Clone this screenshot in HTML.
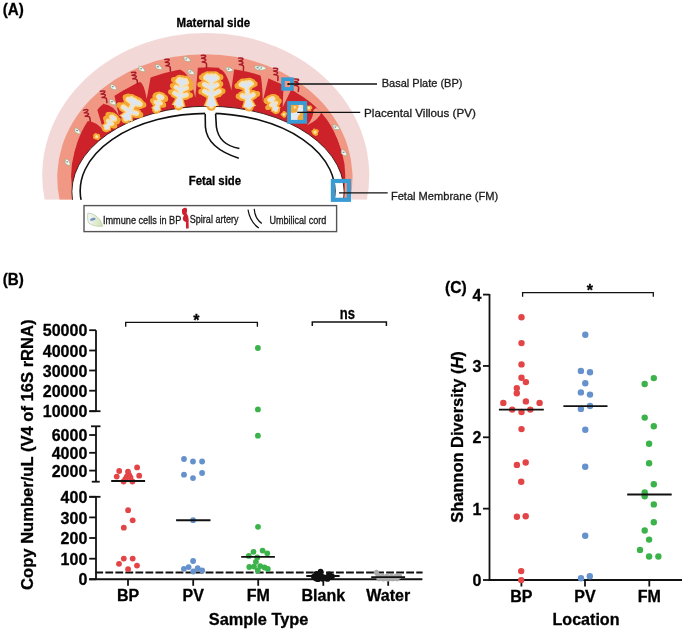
<!DOCTYPE html>
<html><head><meta charset="utf-8"><style>
html,body{margin:0;padding:0;background:#fff;}
svg{display:block;will-change:transform;}
text{font-family:"Liberation Sans",sans-serif;}
</style></head><body>
<svg width="685" height="631" viewBox="0 0 685 631">
<rect width="685" height="631" fill="#fff"/>
<path d="M44.67,199.80 A163.51,142.37 0 1 1 366.83,199.80 Z" fill="#f3d8d8"/>
<path d="M59.64,199.80 A147.66,123.38 0 1 1 350.12,199.80 Z" fill="#f09884"/>
<path d="M74.35,199.80 A137.10,109.00 0 1 1 342.05,199.80 Z" fill="#cd2229"/>
<path d="M72.06,182.16 L72.07,178.75 L72.12,176.09 L72.19,173.67 L72.28,171.38 L72.41,169.19 L72.56,167.08 L72.74,165.03 L72.95,163.03 L73.19,161.08 L73.45,159.17 L73.74,157.30 L74.06,155.46 L74.41,153.65 L74.78,151.87 L75.18,150.11 L75.61,148.39 L76.07,146.68 L76.55,145.00 L77.06,143.35 L77.60,141.72 L78.16,140.10 L78.76,138.51 L79.38,136.94 L80.02,135.39 L80.69,133.86 L81.39,132.35 L82.12,130.86 L82.87,129.39 L83.65,127.94 L84.46,126.50 L85.29,125.09 L86.15,123.69 L87.04,122.32 L87.95,120.96 L88.89,119.62 L89.85,118.30 L90.84,117.00 L91.85,115.71 L92.89,114.45 L93.96,113.20 L95.05,111.97 L96.17,110.76 L97.31,109.57 L98.48,108.40 L99.67,107.25 L100.88,106.11 L102.13,105.00 L103.39,103.90 L104.68,102.83 L106.00,101.77 L107.34,100.73 L108.70,99.71 L110.09,98.71 L111.50,97.73 L112.94,96.77 L114.40,95.83 L115.88,94.91 L117.39,94.01 L118.92,93.13 L120.48,92.27 L122.06,91.42 L123.66,90.60 L125.29,89.80 L126.94,89.02 L128.61,88.26 L130.31,87.52 L132.03,86.80 L133.77,86.10 L135.54,85.43 L137.33,84.77 L139.15,84.13 L140.99,83.52 L142.85,82.92 L144.74,82.35 L146.66,81.80 L148.59,81.26 L150.56,80.75 L152.55,80.27 L154.56,79.80 L156.60,79.35 L158.67,78.93 L160.77,78.52 L162.90,78.14 L165.05,77.78 L167.24,77.44 L169.46,77.13 L171.72,76.83 L174.01,76.56 L176.34,76.31 L178.72,76.08 L181.14,75.87 L183.61,75.68 L186.14,75.52 L188.74,75.37 L191.41,75.25 L194.19,75.16 L197.08,75.08 L200.16,75.02 L203.52,74.99 L207.84,74.98 L212.16,74.99 L215.52,75.02 L218.60,75.08 L221.49,75.16 L224.27,75.25 L226.94,75.37 L229.54,75.52 L232.07,75.68 L234.54,75.87 L236.96,76.08 L239.34,76.31 L241.67,76.56 L243.96,76.83 L246.22,77.13 L248.44,77.44 L250.63,77.78 L252.78,78.14 L254.91,78.52 L257.01,78.93 L259.08,79.35 L261.12,79.80 L263.13,80.27 L265.12,80.75 L267.09,81.26 L269.02,81.80 L270.94,82.35 L272.83,82.92 L274.69,83.52 L276.53,84.13 L278.35,84.77 L280.14,85.43 L281.91,86.10 L283.65,86.80 L285.37,87.52 L287.07,88.26 L288.74,89.02 L290.39,89.80 L292.02,90.60 L293.62,91.42 L295.20,92.27 L296.76,93.13 L298.29,94.01 L299.80,94.91 L301.28,95.83 L302.74,96.77 L304.18,97.73 L305.59,98.71 L306.98,99.71 L308.34,100.73 L309.68,101.77 L311.00,102.83 L312.29,103.90 L313.55,105.00 L314.80,106.11 L316.01,107.25 L317.20,108.40 L318.37,109.57 L319.51,110.76 L320.63,111.97 L321.72,113.20 L322.79,114.45 L323.83,115.71 L324.84,117.00 L325.83,118.30 L326.79,119.62 L327.73,120.96 L328.64,122.32 L329.53,123.69 L330.39,125.09 L331.22,126.50 L332.03,127.94 L332.81,129.39 L333.56,130.86 L334.29,132.35 L334.99,133.86 L335.66,135.39 L336.30,136.94 L336.92,138.51 L337.52,140.10 L338.08,141.72 L338.62,143.35 L339.13,145.00 L339.61,146.68 L340.07,148.39 L340.50,150.11 L340.90,151.87 L341.27,153.65 L341.62,155.46 L341.94,157.30 L342.23,159.17 L342.49,161.08 L342.73,163.03 L342.94,165.03 L343.12,167.08 L343.27,169.19 L343.40,171.38 L343.49,173.67 L343.56,176.09 L343.61,178.75 L343.62,182.16 L343.62,199.8 L72.06,199.8 Z" fill="#cd2229"/>
<path d="M87.5,116.0 L87.5,121.0 Q98.0,122.2 103.6,130.9 L97.5,110.5 L97.5,105.5 Z" fill="#f09884"/>
<path d="M104.0,99.0 L104.0,104.0 Q113.6,105.4 118.8,115.6 L114.5,96.0 L114.5,91.0 Z" fill="#f09884"/>
<path d="M139.7,76.5 L139.7,81.5 Q144.2,83.6 146.7,99.0 L150.8,76.3 L150.8,71.3 Z" fill="#f09884"/>
<path d="M180.7,65.0 L180.7,70.0 Q190.2,73.3 195.3,97.8 L197.8,68.4 L197.8,63.4 Z" fill="#f09884"/>
<path d="M219.3,63.7 L219.3,68.7 Q227.1,71.3 231.3,90.3 L234.0,70.4 L234.0,65.4 Z" fill="#f09884"/>
<path d="M260.5,71.0 L260.5,76.0 Q262.0,79.0 262.8,101.0 L268.4,78.6 L268.4,73.6 Z" fill="#f09884"/>
<path d="M284.0,81.0 L284.0,86.0 Q283.2,88.6 282.7,107.3 L291.0,90.0 L291.0,85.0 Z" fill="#f09884"/>
<path d="M316,108 L321.5,111.5 Q320,119 307,125.3 Q313.5,118.5 313.5,110 Z" fill="#f09884"/>
<path d="M72.54,200.50 A136.13,85.89 0 1 1 343.50,200.50 Z" fill="#fff"/>
<path d="M72.54,200.50 A136.13,85.89 0 1 1 343.50,200.50" fill="none" stroke="#3a1515" stroke-width="0.9"/>
<path d="M81.16,200.50 A127.34,77.55 0 1 1 333.88,200.50" fill="none" stroke="#111" stroke-width="1.6"/>
<rect x="40" y="199.8" width="340" height="5" fill="#fff"/>
<rect x="205.2" y="110" width="10.3" height="6" fill="#fff"/>
<path d="M205.2,113.9 L205.4,127 Q207,148 238.8,158.2" fill="none" stroke="#111" stroke-width="1.6"/>
<path d="M215.6,113.9 L216.4,127 Q219,145 239.4,148.5" fill="none" stroke="#111" stroke-width="1.6"/>
<circle cx="96.7" cy="136.7" r="2.9" fill="#f4a935"/><circle cx="97.9" cy="138.8" r="1.4" fill="#f4a935"/><circle cx="94.4" cy="137.5" r="1.4" fill="#f4a935"/><circle cx="94.7" cy="135.3" r="1.4" fill="#f4a935"/><circle cx="95.7" cy="134.5" r="1.4" fill="#f4a935"/><circle cx="98.5" cy="135.2" r="1.4" fill="#f4a935"/><circle cx="99.0" cy="137.4" r="1.4" fill="#f4a935"/><circle cx="96.7" cy="136.7" r="1.6" fill="#fde0a6"/>
<path d="M106.1,128.1 L112.9,118.1" stroke="#f4a935" stroke-width="8.5" stroke-linecap="round" fill="none"/><path d="M109.2,123.5 L108.0,120.8" stroke="#f4a935" stroke-width="8.5" stroke-linecap="round" fill="none"/><path d="M109.2,123.5 L112.1,123.8" stroke="#f4a935" stroke-width="8.5" stroke-linecap="round" fill="none"/><path d="M112.3,119.0 L111.2,116.9" stroke="#f4a935" stroke-width="8.5" stroke-linecap="round" fill="none"/><path d="M112.3,119.0 L115.0,119.6" stroke="#f4a935" stroke-width="8.5" stroke-linecap="round" fill="none"/><path d="M112.7,118.4 L112.2,116.5" stroke="#f4a935" stroke-width="8.5" stroke-linecap="round" fill="none"/><path d="M112.7,118.4 L113.4,117.4" stroke="#f4a935" stroke-width="8.5" stroke-linecap="round" fill="none"/><path d="M112.7,118.4 L114.7,118.2" stroke="#f4a935" stroke-width="8.5" stroke-linecap="round" fill="none"/><path d="M101.4,124.9 L110.7,131.3 L111.8,119.7 Z" fill="#f4a935"/><circle cx="106.6" cy="121.0" r="2.6" fill="#f4a935"/><circle cx="112.3" cy="125.0" r="2.6" fill="#f4a935"/><circle cx="110.0" cy="116.9" r="2.6" fill="#f4a935"/><circle cx="115.7" cy="119.3" r="2.6" fill="#f4a935"/><circle cx="106.5" cy="120.1" r="2.6" fill="#f4a935"/><circle cx="110.9" cy="124.7" r="2.6" fill="#f4a935"/><circle cx="105.7" cy="118.3" r="2.6" fill="#f4a935"/><circle cx="110.0" cy="123.4" r="2.6" fill="#f4a935"/><circle cx="108.1" cy="122.2" r="2.6" fill="#f4a935"/><circle cx="113.2" cy="125.7" r="2.6" fill="#f4a935"/><circle cx="109.2" cy="122.3" r="2.6" fill="#f4a935"/><circle cx="114.7" cy="125.9" r="2.6" fill="#f4a935"/><circle cx="108.5" cy="115.9" r="2.6" fill="#f4a935"/><circle cx="114.7" cy="118.9" r="2.6" fill="#f4a935"/><circle cx="108.0" cy="114.7" r="2.6" fill="#f4a935"/><circle cx="113.2" cy="119.4" r="2.6" fill="#f4a935"/><circle cx="110.5" cy="117.7" r="2.6" fill="#f4a935"/><circle cx="117.0" cy="121.1" r="2.6" fill="#f4a935"/><circle cx="111.9" cy="118.4" r="2.6" fill="#f4a935"/><circle cx="117.2" cy="121.7" r="2.6" fill="#f4a935"/><circle cx="109.8" cy="116.1" r="2.6" fill="#f4a935"/><circle cx="114.9" cy="120.3" r="2.6" fill="#f4a935"/><circle cx="109.1" cy="114.4" r="2.6" fill="#f4a935"/><circle cx="115.1" cy="117.7" r="2.6" fill="#f4a935"/><circle cx="110.2" cy="116.0" r="2.6" fill="#f4a935"/><circle cx="115.0" cy="120.2" r="2.6" fill="#f4a935"/><circle cx="110.4" cy="115.8" r="2.6" fill="#f4a935"/><circle cx="116.3" cy="118.7" r="2.6" fill="#f4a935"/><circle cx="111.5" cy="116.4" r="2.6" fill="#f4a935"/><circle cx="116.4" cy="120.0" r="2.6" fill="#f4a935"/><circle cx="111.6" cy="116.9" r="2.6" fill="#f4a935"/><circle cx="118.2" cy="119.8" r="2.6" fill="#f4a935"/><path d="M106.1,128.1 L112.9,118.1" stroke="#fde0a6" stroke-width="4.3" stroke-linecap="round" fill="none"/><path d="M109.2,123.5 L108.0,120.8" stroke="#fde0a6" stroke-width="4.3" stroke-linecap="round" fill="none"/><path d="M109.2,123.5 L112.1,123.8" stroke="#fde0a6" stroke-width="4.3" stroke-linecap="round" fill="none"/><path d="M112.3,119.0 L111.2,116.9" stroke="#fde0a6" stroke-width="4.3" stroke-linecap="round" fill="none"/><path d="M112.3,119.0 L115.0,119.6" stroke="#fde0a6" stroke-width="4.3" stroke-linecap="round" fill="none"/><path d="M112.7,118.4 L112.2,116.5" stroke="#fde0a6" stroke-width="4.3" stroke-linecap="round" fill="none"/><path d="M112.7,118.4 L113.4,117.4" stroke="#fde0a6" stroke-width="4.3" stroke-linecap="round" fill="none"/><path d="M112.7,118.4 L114.7,118.2" stroke="#fde0a6" stroke-width="4.3" stroke-linecap="round" fill="none"/><path d="M102.7,125.8 L109.5,130.4 L111.0,120.9 Z" fill="#fde0a6"/><path d="M106.1,128.1 L112.9,118.1" stroke="#dce6f4" stroke-width="1.3" stroke-linecap="round" fill="none"/><path d="M109.2,123.5 L108.0,120.8" stroke="#dce6f4" stroke-width="1.3" stroke-linecap="round" fill="none"/><path d="M109.2,123.5 L112.1,123.8" stroke="#dce6f4" stroke-width="1.3" stroke-linecap="round" fill="none"/><path d="M112.3,119.0 L111.2,116.9" stroke="#dce6f4" stroke-width="1.3" stroke-linecap="round" fill="none"/><path d="M112.3,119.0 L115.0,119.6" stroke="#dce6f4" stroke-width="1.3" stroke-linecap="round" fill="none"/><path d="M112.7,118.4 L112.2,116.5" stroke="#dce6f4" stroke-width="1.3" stroke-linecap="round" fill="none"/><path d="M112.7,118.4 L113.4,117.4" stroke="#dce6f4" stroke-width="1.3" stroke-linecap="round" fill="none"/><path d="M112.7,118.4 L114.7,118.2" stroke="#dce6f4" stroke-width="1.3" stroke-linecap="round" fill="none"/><path d="M103.9,126.6 L108.3,129.6 L110.1,122.2 Z" fill="#dce6f4"/>
<path d="M126.0,118.8 L134.2,101.8" stroke="#f4a935" stroke-width="9.6" stroke-linecap="round" fill="none"/><path d="M129.5,111.6 L123.3,107.0" stroke="#f4a935" stroke-width="9.6" stroke-linecap="round" fill="none"/><path d="M129.5,111.6 L136.7,113.3" stroke="#f4a935" stroke-width="9.6" stroke-linecap="round" fill="none"/><path d="M133.4,103.4 L128.2,99.3" stroke="#f4a935" stroke-width="9.6" stroke-linecap="round" fill="none"/><path d="M133.4,103.4 L140.1,104.2" stroke="#f4a935" stroke-width="9.6" stroke-linecap="round" fill="none"/><path d="M133.9,102.4 L131.4,98.8" stroke="#f4a935" stroke-width="9.6" stroke-linecap="round" fill="none"/><path d="M133.9,102.4 L134.8,100.4" stroke="#f4a935" stroke-width="9.6" stroke-linecap="round" fill="none"/><path d="M133.9,102.4 L138.3,102.1" stroke="#f4a935" stroke-width="9.6" stroke-linecap="round" fill="none"/><path d="M118.9,115.4 L133.0,122.2 L132.0,106.4 Z" fill="#f4a935"/><circle cx="125.8" cy="109.3" r="2.9" fill="#f4a935"/><circle cx="133.4" cy="111.5" r="2.9" fill="#f4a935"/><circle cx="130.7" cy="99.6" r="2.9" fill="#f4a935"/><circle cx="137.6" cy="102.8" r="2.9" fill="#f4a935"/><circle cx="122.2" cy="108.1" r="2.9" fill="#f4a935"/><circle cx="130.4" cy="110.6" r="2.9" fill="#f4a935"/><circle cx="119.3" cy="105.1" r="2.9" fill="#f4a935"/><circle cx="126.5" cy="108.4" r="2.9" fill="#f4a935"/><circle cx="130.1" cy="110.1" r="2.9" fill="#f4a935"/><circle cx="136.7" cy="113.9" r="2.9" fill="#f4a935"/><circle cx="132.8" cy="112.4" r="2.9" fill="#f4a935"/><circle cx="140.4" cy="114.9" r="2.9" fill="#f4a935"/><circle cx="126.5" cy="100.4" r="2.9" fill="#f4a935"/><circle cx="133.9" cy="103.8" r="2.9" fill="#f4a935"/><circle cx="125.6" cy="97.2" r="2.9" fill="#f4a935"/><circle cx="131.0" cy="101.5" r="2.9" fill="#f4a935"/><circle cx="132.9" cy="102.4" r="2.9" fill="#f4a935"/><circle cx="140.0" cy="105.3" r="2.9" fill="#f4a935"/><circle cx="136.5" cy="101.6" r="2.9" fill="#f4a935"/><circle cx="143.5" cy="104.8" r="2.9" fill="#f4a935"/><circle cx="128.9" cy="99.6" r="2.9" fill="#f4a935"/><circle cx="136.3" cy="102.1" r="2.9" fill="#f4a935"/><circle cx="128.2" cy="96.5" r="2.9" fill="#f4a935"/><circle cx="135.5" cy="100.4" r="2.9" fill="#f4a935"/><circle cx="131.4" cy="99.6" r="2.9" fill="#f4a935"/><circle cx="138.3" cy="102.9" r="2.9" fill="#f4a935"/><circle cx="131.1" cy="98.3" r="2.9" fill="#f4a935"/><circle cx="138.6" cy="101.3" r="2.9" fill="#f4a935"/><circle cx="131.9" cy="100.9" r="2.9" fill="#f4a935"/><circle cx="139.9" cy="103.2" r="2.9" fill="#f4a935"/><circle cx="134.9" cy="100.2" r="2.9" fill="#f4a935"/><circle cx="141.7" cy="104.7" r="2.9" fill="#f4a935"/><path d="M126.0,118.8 L134.2,101.8" stroke="#fde0a6" stroke-width="5.4" stroke-linecap="round" fill="none"/><path d="M129.5,111.6 L123.3,107.0" stroke="#fde0a6" stroke-width="5.4" stroke-linecap="round" fill="none"/><path d="M129.5,111.6 L136.7,113.3" stroke="#fde0a6" stroke-width="5.4" stroke-linecap="round" fill="none"/><path d="M133.4,103.4 L128.2,99.3" stroke="#fde0a6" stroke-width="5.4" stroke-linecap="round" fill="none"/><path d="M133.4,103.4 L140.1,104.2" stroke="#fde0a6" stroke-width="5.4" stroke-linecap="round" fill="none"/><path d="M133.9,102.4 L131.4,98.8" stroke="#fde0a6" stroke-width="5.4" stroke-linecap="round" fill="none"/><path d="M133.9,102.4 L134.8,100.4" stroke="#fde0a6" stroke-width="5.4" stroke-linecap="round" fill="none"/><path d="M133.9,102.4 L138.3,102.1" stroke="#fde0a6" stroke-width="5.4" stroke-linecap="round" fill="none"/><path d="M120.3,116.0 L131.7,121.6 L131.3,107.7 Z" fill="#fde0a6"/><path d="M126.0,118.8 L134.2,101.8" stroke="#dce6f4" stroke-width="2.4" stroke-linecap="round" fill="none"/><path d="M129.5,111.6 L123.3,107.0" stroke="#dce6f4" stroke-width="2.4" stroke-linecap="round" fill="none"/><path d="M129.5,111.6 L136.7,113.3" stroke="#dce6f4" stroke-width="2.4" stroke-linecap="round" fill="none"/><path d="M133.4,103.4 L128.2,99.3" stroke="#dce6f4" stroke-width="2.4" stroke-linecap="round" fill="none"/><path d="M133.4,103.4 L140.1,104.2" stroke="#dce6f4" stroke-width="2.4" stroke-linecap="round" fill="none"/><path d="M133.9,102.4 L131.4,98.8" stroke="#dce6f4" stroke-width="2.4" stroke-linecap="round" fill="none"/><path d="M133.9,102.4 L134.8,100.4" stroke="#dce6f4" stroke-width="2.4" stroke-linecap="round" fill="none"/><path d="M133.9,102.4 L138.3,102.1" stroke="#dce6f4" stroke-width="2.4" stroke-linecap="round" fill="none"/><path d="M121.6,116.7 L130.3,120.9 L130.7,109.1 Z" fill="#dce6f4"/>
<path d="M156.3,109.6 L160.1,97.2" stroke="#f4a935" stroke-width="8.5" stroke-linecap="round" fill="none"/><path d="M158.0,104.0 L155.5,102.1" stroke="#f4a935" stroke-width="8.5" stroke-linecap="round" fill="none"/><path d="M158.0,104.0 L160.8,103.1" stroke="#f4a935" stroke-width="8.5" stroke-linecap="round" fill="none"/><path d="M159.8,98.3 L158.0,96.7" stroke="#f4a935" stroke-width="8.5" stroke-linecap="round" fill="none"/><path d="M159.8,98.3 L162.4,97.9" stroke="#f4a935" stroke-width="8.5" stroke-linecap="round" fill="none"/><path d="M160.0,97.6 L159.0,95.8" stroke="#f4a935" stroke-width="8.5" stroke-linecap="round" fill="none"/><path d="M160.0,97.6 L160.4,96.3" stroke="#f4a935" stroke-width="8.5" stroke-linecap="round" fill="none"/><path d="M160.0,97.6 L161.9,96.7" stroke="#f4a935" stroke-width="8.5" stroke-linecap="round" fill="none"/><path d="M150.9,108.0 L161.7,111.3 L159.4,99.4 Z" fill="#f4a935"/><circle cx="154.7" cy="101.8" r="2.6" fill="#f4a935"/><circle cx="162.0" cy="104.2" r="2.6" fill="#f4a935"/><circle cx="156.5" cy="97.0" r="2.6" fill="#f4a935"/><circle cx="163.3" cy="99.1" r="2.6" fill="#f4a935"/><circle cx="153.6" cy="101.1" r="2.6" fill="#f4a935"/><circle cx="160.3" cy="104.4" r="2.6" fill="#f4a935"/><circle cx="152.6" cy="100.6" r="2.6" fill="#f4a935"/><circle cx="159.0" cy="103.4" r="2.6" fill="#f4a935"/><circle cx="155.6" cy="102.9" r="2.6" fill="#f4a935"/><circle cx="163.1" cy="104.8" r="2.6" fill="#f4a935"/><circle cx="157.3" cy="102.3" r="2.6" fill="#f4a935"/><circle cx="163.6" cy="104.9" r="2.6" fill="#f4a935"/><circle cx="155.7" cy="97.1" r="2.6" fill="#f4a935"/><circle cx="162.5" cy="98.9" r="2.6" fill="#f4a935"/><circle cx="155.0" cy="96.4" r="2.6" fill="#f4a935"/><circle cx="161.6" cy="97.2" r="2.6" fill="#f4a935"/><circle cx="158.3" cy="97.3" r="2.6" fill="#f4a935"/><circle cx="163.6" cy="99.8" r="2.6" fill="#f4a935"/><circle cx="159.2" cy="96.9" r="2.6" fill="#f4a935"/><circle cx="165.5" cy="99.2" r="2.6" fill="#f4a935"/><circle cx="155.9" cy="95.2" r="2.6" fill="#f4a935"/><circle cx="162.6" cy="97.9" r="2.6" fill="#f4a935"/><circle cx="155.9" cy="95.1" r="2.6" fill="#f4a935"/><circle cx="162.3" cy="96.7" r="2.6" fill="#f4a935"/><circle cx="156.8" cy="96.0" r="2.6" fill="#f4a935"/><circle cx="162.7" cy="98.8" r="2.6" fill="#f4a935"/><circle cx="157.4" cy="95.2" r="2.6" fill="#f4a935"/><circle cx="163.3" cy="98.1" r="2.6" fill="#f4a935"/><circle cx="157.2" cy="96.1" r="2.6" fill="#f4a935"/><circle cx="164.3" cy="97.4" r="2.6" fill="#f4a935"/><circle cx="158.4" cy="95.0" r="2.6" fill="#f4a935"/><circle cx="165.2" cy="97.5" r="2.6" fill="#f4a935"/><path d="M156.3,109.6 L160.1,97.2" stroke="#fde0a6" stroke-width="4.3" stroke-linecap="round" fill="none"/><path d="M158.0,104.0 L155.5,102.1" stroke="#fde0a6" stroke-width="4.3" stroke-linecap="round" fill="none"/><path d="M158.0,104.0 L160.8,103.1" stroke="#fde0a6" stroke-width="4.3" stroke-linecap="round" fill="none"/><path d="M159.8,98.3 L158.0,96.7" stroke="#fde0a6" stroke-width="4.3" stroke-linecap="round" fill="none"/><path d="M159.8,98.3 L162.4,97.9" stroke="#fde0a6" stroke-width="4.3" stroke-linecap="round" fill="none"/><path d="M160.0,97.6 L159.0,95.8" stroke="#fde0a6" stroke-width="4.3" stroke-linecap="round" fill="none"/><path d="M160.0,97.6 L160.4,96.3" stroke="#fde0a6" stroke-width="4.3" stroke-linecap="round" fill="none"/><path d="M160.0,97.6 L161.9,96.7" stroke="#fde0a6" stroke-width="4.3" stroke-linecap="round" fill="none"/><path d="M152.3,108.4 L160.2,110.8 L159.0,100.9 Z" fill="#fde0a6"/><path d="M156.3,109.6 L160.1,97.2" stroke="#dce6f4" stroke-width="1.3" stroke-linecap="round" fill="none"/><path d="M158.0,104.0 L155.5,102.1" stroke="#dce6f4" stroke-width="1.3" stroke-linecap="round" fill="none"/><path d="M158.0,104.0 L160.8,103.1" stroke="#dce6f4" stroke-width="1.3" stroke-linecap="round" fill="none"/><path d="M159.8,98.3 L158.0,96.7" stroke="#dce6f4" stroke-width="1.3" stroke-linecap="round" fill="none"/><path d="M159.8,98.3 L162.4,97.9" stroke="#dce6f4" stroke-width="1.3" stroke-linecap="round" fill="none"/><path d="M160.0,97.6 L159.0,95.8" stroke="#dce6f4" stroke-width="1.3" stroke-linecap="round" fill="none"/><path d="M160.0,97.6 L160.4,96.3" stroke="#dce6f4" stroke-width="1.3" stroke-linecap="round" fill="none"/><path d="M160.0,97.6 L161.9,96.7" stroke="#dce6f4" stroke-width="1.3" stroke-linecap="round" fill="none"/><path d="M153.8,108.8 L158.8,110.4 L158.5,102.3 Z" fill="#dce6f4"/>
<path d="M178.6,105.8 L182.2,81.8" stroke="#f4a935" stroke-width="9.3" stroke-linecap="round" fill="none"/><path d="M180.0,96.3 L174.7,93.0" stroke="#f4a935" stroke-width="9.3" stroke-linecap="round" fill="none"/><path d="M180.0,96.3 L186.3,94.9" stroke="#f4a935" stroke-width="9.3" stroke-linecap="round" fill="none"/><path d="M180.9,90.3 L176.1,87.1" stroke="#f4a935" stroke-width="9.3" stroke-linecap="round" fill="none"/><path d="M180.9,90.3 L186.5,87.7" stroke="#f4a935" stroke-width="9.3" stroke-linecap="round" fill="none"/><path d="M181.8,84.2 L177.9,81.0" stroke="#f4a935" stroke-width="9.3" stroke-linecap="round" fill="none"/><path d="M181.8,84.2 L186.6,82.5" stroke="#f4a935" stroke-width="9.3" stroke-linecap="round" fill="none"/><path d="M182.0,82.8 L179.4,79.4" stroke="#f4a935" stroke-width="9.3" stroke-linecap="round" fill="none"/><path d="M182.0,82.8 L182.5,79.9" stroke="#f4a935" stroke-width="9.3" stroke-linecap="round" fill="none"/><path d="M182.0,82.8 L185.6,80.4" stroke="#f4a935" stroke-width="9.3" stroke-linecap="round" fill="none"/><path d="M171.5,104.8 L185.7,106.9 L181.0,89.5 Z" fill="#f4a935"/><circle cx="176.2" cy="92.8" r="2.8" fill="#f4a935"/><circle cx="184.2" cy="94.2" r="2.8" fill="#f4a935"/><circle cx="178.3" cy="81.1" r="2.8" fill="#f4a935"/><circle cx="185.5" cy="82.2" r="2.8" fill="#f4a935"/><circle cx="173.7" cy="94.7" r="2.8" fill="#f4a935"/><circle cx="181.2" cy="94.6" r="2.8" fill="#f4a935"/><circle cx="170.9" cy="92.0" r="2.8" fill="#f4a935"/><circle cx="178.5" cy="93.0" r="2.8" fill="#f4a935"/><circle cx="179.5" cy="95.6" r="2.8" fill="#f4a935"/><circle cx="186.8" cy="96.6" r="2.8" fill="#f4a935"/><circle cx="182.4" cy="94.4" r="2.8" fill="#f4a935"/><circle cx="190.2" cy="95.2" r="2.8" fill="#f4a935"/><circle cx="174.6" cy="88.6" r="2.8" fill="#f4a935"/><circle cx="181.6" cy="90.0" r="2.8" fill="#f4a935"/><circle cx="172.7" cy="85.8" r="2.8" fill="#f4a935"/><circle cx="179.4" cy="87.2" r="2.8" fill="#f4a935"/><circle cx="180.5" cy="88.3" r="2.8" fill="#f4a935"/><circle cx="187.2" cy="89.8" r="2.8" fill="#f4a935"/><circle cx="182.7" cy="88.0" r="2.8" fill="#f4a935"/><circle cx="190.4" cy="87.9" r="2.8" fill="#f4a935"/><circle cx="175.7" cy="82.4" r="2.8" fill="#f4a935"/><circle cx="184.0" cy="83.7" r="2.8" fill="#f4a935"/><circle cx="173.8" cy="79.8" r="2.8" fill="#f4a935"/><circle cx="181.2" cy="82.5" r="2.8" fill="#f4a935"/><circle cx="181.0" cy="83.7" r="2.8" fill="#f4a935"/><circle cx="188.5" cy="83.3" r="2.8" fill="#f4a935"/><circle cx="183.2" cy="82.8" r="2.8" fill="#f4a935"/><circle cx="190.7" cy="83.8" r="2.8" fill="#f4a935"/><circle cx="176.7" cy="81.0" r="2.8" fill="#f4a935"/><circle cx="184.3" cy="80.7" r="2.8" fill="#f4a935"/><circle cx="175.5" cy="79.6" r="2.8" fill="#f4a935"/><circle cx="183.6" cy="80.1" r="2.8" fill="#f4a935"/><circle cx="179.3" cy="80.2" r="2.8" fill="#f4a935"/><circle cx="185.9" cy="81.4" r="2.8" fill="#f4a935"/><circle cx="179.5" cy="78.8" r="2.8" fill="#f4a935"/><circle cx="186.3" cy="79.7" r="2.8" fill="#f4a935"/><circle cx="180.7" cy="80.4" r="2.8" fill="#f4a935"/><circle cx="186.8" cy="82.6" r="2.8" fill="#f4a935"/><circle cx="181.6" cy="79.1" r="2.8" fill="#f4a935"/><circle cx="189.3" cy="81.7" r="2.8" fill="#f4a935"/><path d="M178.6,105.8 L182.2,81.8" stroke="#fde0a6" stroke-width="5.1" stroke-linecap="round" fill="none"/><path d="M180.0,96.3 L174.7,93.0" stroke="#fde0a6" stroke-width="5.1" stroke-linecap="round" fill="none"/><path d="M180.0,96.3 L186.3,94.9" stroke="#fde0a6" stroke-width="5.1" stroke-linecap="round" fill="none"/><path d="M180.9,90.3 L176.1,87.1" stroke="#fde0a6" stroke-width="5.1" stroke-linecap="round" fill="none"/><path d="M180.9,90.3 L186.5,87.7" stroke="#fde0a6" stroke-width="5.1" stroke-linecap="round" fill="none"/><path d="M181.8,84.2 L177.9,81.0" stroke="#fde0a6" stroke-width="5.1" stroke-linecap="round" fill="none"/><path d="M181.8,84.2 L186.6,82.5" stroke="#fde0a6" stroke-width="5.1" stroke-linecap="round" fill="none"/><path d="M182.0,82.8 L179.4,79.4" stroke="#fde0a6" stroke-width="5.1" stroke-linecap="round" fill="none"/><path d="M182.0,82.8 L182.5,79.9" stroke="#fde0a6" stroke-width="5.1" stroke-linecap="round" fill="none"/><path d="M182.0,82.8 L185.6,80.4" stroke="#fde0a6" stroke-width="5.1" stroke-linecap="round" fill="none"/><path d="M172.9,105.0 L184.2,106.7 L180.8,91.0 Z" fill="#fde0a6"/><path d="M178.6,105.8 L182.2,81.8" stroke="#dce6f4" stroke-width="2.1" stroke-linecap="round" fill="none"/><path d="M180.0,96.3 L174.7,93.0" stroke="#dce6f4" stroke-width="2.1" stroke-linecap="round" fill="none"/><path d="M180.0,96.3 L186.3,94.9" stroke="#dce6f4" stroke-width="2.1" stroke-linecap="round" fill="none"/><path d="M180.9,90.3 L176.1,87.1" stroke="#dce6f4" stroke-width="2.1" stroke-linecap="round" fill="none"/><path d="M180.9,90.3 L186.5,87.7" stroke="#dce6f4" stroke-width="2.1" stroke-linecap="round" fill="none"/><path d="M181.8,84.2 L177.9,81.0" stroke="#dce6f4" stroke-width="2.1" stroke-linecap="round" fill="none"/><path d="M181.8,84.2 L186.6,82.5" stroke="#dce6f4" stroke-width="2.1" stroke-linecap="round" fill="none"/><path d="M182.0,82.8 L179.4,79.4" stroke="#dce6f4" stroke-width="2.1" stroke-linecap="round" fill="none"/><path d="M182.0,82.8 L182.5,79.9" stroke="#dce6f4" stroke-width="2.1" stroke-linecap="round" fill="none"/><path d="M182.0,82.8 L185.6,80.4" stroke="#dce6f4" stroke-width="2.1" stroke-linecap="round" fill="none"/><path d="M174.4,105.2 L182.7,106.5 L180.6,92.5 Z" fill="#dce6f4"/>
<path d="M211.3,106.0 L211.3,78.3" stroke="#f4a935" stroke-width="9.6" stroke-linecap="round" fill="none"/><path d="M211.3,95.2 L204.7,91.3" stroke="#f4a935" stroke-width="9.6" stroke-linecap="round" fill="none"/><path d="M211.3,95.2 L218.9,91.4" stroke="#f4a935" stroke-width="9.6" stroke-linecap="round" fill="none"/><path d="M211.3,88.2 L204.5,84.4" stroke="#f4a935" stroke-width="9.6" stroke-linecap="round" fill="none"/><path d="M211.3,88.2 L216.9,84.8" stroke="#f4a935" stroke-width="9.6" stroke-linecap="round" fill="none"/><path d="M211.3,81.1 L205.8,77.6" stroke="#f4a935" stroke-width="9.6" stroke-linecap="round" fill="none"/><path d="M211.3,81.1 L217.1,77.9" stroke="#f4a935" stroke-width="9.6" stroke-linecap="round" fill="none"/><path d="M211.3,79.4 L207.5,76.0" stroke="#f4a935" stroke-width="9.6" stroke-linecap="round" fill="none"/><path d="M211.3,79.4 L211.3,76.0" stroke="#f4a935" stroke-width="9.6" stroke-linecap="round" fill="none"/><path d="M211.3,79.4 L215.1,76.0" stroke="#f4a935" stroke-width="9.6" stroke-linecap="round" fill="none"/><path d="M203.5,106.0 L219.1,106.0 L211.3,87.7 Z" fill="#f4a935"/><circle cx="207.4" cy="92.3" r="2.9" fill="#f4a935"/><circle cx="215.5" cy="93.1" r="2.9" fill="#f4a935"/><circle cx="207.6" cy="78.9" r="2.9" fill="#f4a935"/><circle cx="215.6" cy="78.1" r="2.9" fill="#f4a935"/><circle cx="204.6" cy="93.2" r="2.9" fill="#f4a935"/><circle cx="212.2" cy="93.3" r="2.9" fill="#f4a935"/><circle cx="201.2" cy="91.7" r="2.9" fill="#f4a935"/><circle cx="208.3" cy="92.1" r="2.9" fill="#f4a935"/><circle cx="211.6" cy="93.5" r="2.9" fill="#f4a935"/><circle cx="218.8" cy="94.3" r="2.9" fill="#f4a935"/><circle cx="215.5" cy="92.2" r="2.9" fill="#f4a935"/><circle cx="222.6" cy="91.1" r="2.9" fill="#f4a935"/><circle cx="204.4" cy="86.3" r="2.9" fill="#f4a935"/><circle cx="212.3" cy="87.3" r="2.9" fill="#f4a935"/><circle cx="200.2" cy="84.6" r="2.9" fill="#f4a935"/><circle cx="208.1" cy="84.4" r="2.9" fill="#f4a935"/><circle cx="210.1" cy="86.1" r="2.9" fill="#f4a935"/><circle cx="218.6" cy="85.7" r="2.9" fill="#f4a935"/><circle cx="213.4" cy="84.2" r="2.9" fill="#f4a935"/><circle cx="220.4" cy="84.0" r="2.9" fill="#f4a935"/><circle cx="205.0" cy="79.1" r="2.9" fill="#f4a935"/><circle cx="212.9" cy="79.4" r="2.9" fill="#f4a935"/><circle cx="201.8" cy="77.3" r="2.9" fill="#f4a935"/><circle cx="209.2" cy="77.7" r="2.9" fill="#f4a935"/><circle cx="210.1" cy="78.7" r="2.9" fill="#f4a935"/><circle cx="218.2" cy="78.9" r="2.9" fill="#f4a935"/><circle cx="213.0" cy="77.6" r="2.9" fill="#f4a935"/><circle cx="220.5" cy="77.2" r="2.9" fill="#f4a935"/><circle cx="205.2" cy="77.8" r="2.9" fill="#f4a935"/><circle cx="212.7" cy="78.5" r="2.9" fill="#f4a935"/><circle cx="203.9" cy="75.6" r="2.9" fill="#f4a935"/><circle cx="210.7" cy="75.6" r="2.9" fill="#f4a935"/><circle cx="207.4" cy="78.5" r="2.9" fill="#f4a935"/><circle cx="214.9" cy="77.7" r="2.9" fill="#f4a935"/><circle cx="208.0" cy="76.4" r="2.9" fill="#f4a935"/><circle cx="214.9" cy="75.8" r="2.9" fill="#f4a935"/><circle cx="209.6" cy="78.3" r="2.9" fill="#f4a935"/><circle cx="217.6" cy="77.0" r="2.9" fill="#f4a935"/><circle cx="211.3" cy="75.2" r="2.9" fill="#f4a935"/><circle cx="219.3" cy="76.8" r="2.9" fill="#f4a935"/><path d="M211.3,106.0 L211.3,78.3" stroke="#fde0a6" stroke-width="5.4" stroke-linecap="round" fill="none"/><path d="M211.3,95.2 L204.7,91.3" stroke="#fde0a6" stroke-width="5.4" stroke-linecap="round" fill="none"/><path d="M211.3,95.2 L218.9,91.4" stroke="#fde0a6" stroke-width="5.4" stroke-linecap="round" fill="none"/><path d="M211.3,88.2 L204.5,84.4" stroke="#fde0a6" stroke-width="5.4" stroke-linecap="round" fill="none"/><path d="M211.3,88.2 L216.9,84.8" stroke="#fde0a6" stroke-width="5.4" stroke-linecap="round" fill="none"/><path d="M211.3,81.1 L205.8,77.6" stroke="#fde0a6" stroke-width="5.4" stroke-linecap="round" fill="none"/><path d="M211.3,81.1 L217.1,77.9" stroke="#fde0a6" stroke-width="5.4" stroke-linecap="round" fill="none"/><path d="M211.3,79.4 L207.5,76.0" stroke="#fde0a6" stroke-width="5.4" stroke-linecap="round" fill="none"/><path d="M211.3,79.4 L211.3,76.0" stroke="#fde0a6" stroke-width="5.4" stroke-linecap="round" fill="none"/><path d="M211.3,79.4 L215.1,76.0" stroke="#fde0a6" stroke-width="5.4" stroke-linecap="round" fill="none"/><path d="M205.0,106.0 L217.6,106.0 L211.3,89.2 Z" fill="#fde0a6"/><path d="M211.3,106.0 L211.3,78.3" stroke="#dce6f4" stroke-width="2.4" stroke-linecap="round" fill="none"/><path d="M211.3,95.2 L204.7,91.3" stroke="#dce6f4" stroke-width="2.4" stroke-linecap="round" fill="none"/><path d="M211.3,95.2 L218.9,91.4" stroke="#dce6f4" stroke-width="2.4" stroke-linecap="round" fill="none"/><path d="M211.3,88.2 L204.5,84.4" stroke="#dce6f4" stroke-width="2.4" stroke-linecap="round" fill="none"/><path d="M211.3,88.2 L216.9,84.8" stroke="#dce6f4" stroke-width="2.4" stroke-linecap="round" fill="none"/><path d="M211.3,81.1 L205.8,77.6" stroke="#dce6f4" stroke-width="2.4" stroke-linecap="round" fill="none"/><path d="M211.3,81.1 L217.1,77.9" stroke="#dce6f4" stroke-width="2.4" stroke-linecap="round" fill="none"/><path d="M211.3,79.4 L207.5,76.0" stroke="#dce6f4" stroke-width="2.4" stroke-linecap="round" fill="none"/><path d="M211.3,79.4 L211.3,76.0" stroke="#dce6f4" stroke-width="2.4" stroke-linecap="round" fill="none"/><path d="M211.3,79.4 L215.1,76.0" stroke="#dce6f4" stroke-width="2.4" stroke-linecap="round" fill="none"/><path d="M206.5,106.0 L216.1,106.0 L211.3,90.7 Z" fill="#dce6f4"/>
<path d="M249.1,106.9 L246.4,84.6" stroke="#f4a935" stroke-width="9.4" stroke-linecap="round" fill="none"/><path d="M248.0,97.9 L242.3,95.8" stroke="#f4a935" stroke-width="9.4" stroke-linecap="round" fill="none"/><path d="M248.0,97.9 L253.2,94.8" stroke="#f4a935" stroke-width="9.4" stroke-linecap="round" fill="none"/><path d="M246.7,86.8 L241.0,84.6" stroke="#f4a935" stroke-width="9.4" stroke-linecap="round" fill="none"/><path d="M246.7,86.8 L251.4,83.7" stroke="#f4a935" stroke-width="9.4" stroke-linecap="round" fill="none"/><path d="M246.5,85.5 L242.8,83.2" stroke="#f4a935" stroke-width="9.4" stroke-linecap="round" fill="none"/><path d="M246.5,85.5 L246.2,82.8" stroke="#f4a935" stroke-width="9.4" stroke-linecap="round" fill="none"/><path d="M246.5,85.5 L249.5,82.4" stroke="#f4a935" stroke-width="9.4" stroke-linecap="round" fill="none"/><path d="M241.7,107.8 L256.4,106.0 L247.2,91.4 Z" fill="#f4a935"/><circle cx="244.6" cy="96.0" r="2.8" fill="#f4a935"/><circle cx="251.4" cy="96.0" r="2.8" fill="#f4a935"/><circle cx="242.7" cy="85.5" r="2.8" fill="#f4a935"/><circle cx="250.0" cy="83.5" r="2.8" fill="#f4a935"/><circle cx="241.1" cy="98.0" r="2.8" fill="#f4a935"/><circle cx="248.6" cy="95.6" r="2.8" fill="#f4a935"/><circle cx="238.5" cy="96.3" r="2.8" fill="#f4a935"/><circle cx="246.3" cy="95.5" r="2.8" fill="#f4a935"/><circle cx="246.9" cy="97.0" r="2.8" fill="#f4a935"/><circle cx="254.1" cy="95.0" r="2.8" fill="#f4a935"/><circle cx="250.1" cy="96.1" r="2.8" fill="#f4a935"/><circle cx="257.3" cy="93.9" r="2.8" fill="#f4a935"/><circle cx="239.7" cy="86.2" r="2.8" fill="#f4a935"/><circle cx="247.2" cy="86.0" r="2.8" fill="#f4a935"/><circle cx="237.3" cy="85.9" r="2.8" fill="#f4a935"/><circle cx="244.9" cy="83.3" r="2.8" fill="#f4a935"/><circle cx="245.2" cy="86.3" r="2.8" fill="#f4a935"/><circle cx="253.2" cy="84.4" r="2.8" fill="#f4a935"/><circle cx="247.7" cy="84.6" r="2.8" fill="#f4a935"/><circle cx="254.8" cy="84.0" r="2.8" fill="#f4a935"/><circle cx="240.5" cy="83.9" r="2.8" fill="#f4a935"/><circle cx="248.5" cy="83.6" r="2.8" fill="#f4a935"/><circle cx="239.5" cy="83.8" r="2.8" fill="#f4a935"/><circle cx="247.1" cy="82.8" r="2.8" fill="#f4a935"/><circle cx="243.1" cy="84.5" r="2.8" fill="#f4a935"/><circle cx="250.5" cy="84.5" r="2.8" fill="#f4a935"/><circle cx="242.1" cy="82.4" r="2.8" fill="#f4a935"/><circle cx="250.5" cy="82.5" r="2.8" fill="#f4a935"/><circle cx="244.7" cy="83.6" r="2.8" fill="#f4a935"/><circle cx="251.3" cy="83.9" r="2.8" fill="#f4a935"/><circle cx="246.3" cy="83.4" r="2.8" fill="#f4a935"/><circle cx="252.8" cy="82.1" r="2.8" fill="#f4a935"/><path d="M249.1,106.9 L246.4,84.6" stroke="#fde0a6" stroke-width="5.2" stroke-linecap="round" fill="none"/><path d="M248.0,97.9 L242.3,95.8" stroke="#fde0a6" stroke-width="5.2" stroke-linecap="round" fill="none"/><path d="M248.0,97.9 L253.2,94.8" stroke="#fde0a6" stroke-width="5.2" stroke-linecap="round" fill="none"/><path d="M246.7,86.8 L241.0,84.6" stroke="#fde0a6" stroke-width="5.2" stroke-linecap="round" fill="none"/><path d="M246.7,86.8 L251.4,83.7" stroke="#fde0a6" stroke-width="5.2" stroke-linecap="round" fill="none"/><path d="M246.5,85.5 L242.8,83.2" stroke="#fde0a6" stroke-width="5.2" stroke-linecap="round" fill="none"/><path d="M246.5,85.5 L246.2,82.8" stroke="#fde0a6" stroke-width="5.2" stroke-linecap="round" fill="none"/><path d="M246.5,85.5 L249.5,82.4" stroke="#fde0a6" stroke-width="5.2" stroke-linecap="round" fill="none"/><path d="M243.2,107.6 L254.9,106.2 L247.4,92.9 Z" fill="#fde0a6"/><path d="M249.1,106.9 L246.4,84.6" stroke="#dce6f4" stroke-width="2.2" stroke-linecap="round" fill="none"/><path d="M248.0,97.9 L242.3,95.8" stroke="#dce6f4" stroke-width="2.2" stroke-linecap="round" fill="none"/><path d="M248.0,97.9 L253.2,94.8" stroke="#dce6f4" stroke-width="2.2" stroke-linecap="round" fill="none"/><path d="M246.7,86.8 L241.0,84.6" stroke="#dce6f4" stroke-width="2.2" stroke-linecap="round" fill="none"/><path d="M246.7,86.8 L251.4,83.7" stroke="#dce6f4" stroke-width="2.2" stroke-linecap="round" fill="none"/><path d="M246.5,85.5 L242.8,83.2" stroke="#dce6f4" stroke-width="2.2" stroke-linecap="round" fill="none"/><path d="M246.5,85.5 L246.2,82.8" stroke="#dce6f4" stroke-width="2.2" stroke-linecap="round" fill="none"/><path d="M246.5,85.5 L249.5,82.4" stroke="#dce6f4" stroke-width="2.2" stroke-linecap="round" fill="none"/><path d="M244.7,107.4 L253.4,106.4 L247.6,94.4 Z" fill="#dce6f4"/>
<path d="M275.9,109.9 L271.5,99.5" stroke="#f4a935" stroke-width="8.5" stroke-linecap="round" fill="none"/><path d="M273.8,105.0 L271.0,105.2" stroke="#f4a935" stroke-width="8.5" stroke-linecap="round" fill="none"/><path d="M273.8,105.0 L276.1,103.1" stroke="#f4a935" stroke-width="8.5" stroke-linecap="round" fill="none"/><path d="M271.9,100.4 L269.3,100.1" stroke="#f4a935" stroke-width="8.5" stroke-linecap="round" fill="none"/><path d="M271.9,100.4 L273.5,98.7" stroke="#f4a935" stroke-width="8.5" stroke-linecap="round" fill="none"/><path d="M271.7,99.9 L269.8,99.4" stroke="#f4a935" stroke-width="8.5" stroke-linecap="round" fill="none"/><path d="M271.7,99.9 L271.2,98.8" stroke="#f4a935" stroke-width="8.5" stroke-linecap="round" fill="none"/><path d="M271.7,99.9 L272.6,98.2" stroke="#f4a935" stroke-width="8.5" stroke-linecap="round" fill="none"/><path d="M270.7,112.1 L281.1,107.7 L272.1,100.9 Z" fill="#f4a935"/><circle cx="270.1" cy="105.4" r="2.6" fill="#f4a935"/><circle cx="276.8" cy="104.1" r="2.6" fill="#f4a935"/><circle cx="267.8" cy="100.7" r="2.6" fill="#f4a935"/><circle cx="274.7" cy="99.2" r="2.6" fill="#f4a935"/><circle cx="269.5" cy="106.5" r="2.6" fill="#f4a935"/><circle cx="275.8" cy="104.0" r="2.6" fill="#f4a935"/><circle cx="267.8" cy="107.5" r="2.6" fill="#f4a935"/><circle cx="274.6" cy="104.4" r="2.6" fill="#f4a935"/><circle cx="271.6" cy="105.7" r="2.6" fill="#f4a935"/><circle cx="277.8" cy="102.2" r="2.6" fill="#f4a935"/><circle cx="273.5" cy="105.1" r="2.6" fill="#f4a935"/><circle cx="279.1" cy="100.9" r="2.6" fill="#f4a935"/><circle cx="266.9" cy="101.3" r="2.6" fill="#f4a935"/><circle cx="273.9" cy="98.8" r="2.6" fill="#f4a935"/><circle cx="266.1" cy="100.8" r="2.6" fill="#f4a935"/><circle cx="272.4" cy="98.6" r="2.6" fill="#f4a935"/><circle cx="269.6" cy="101.3" r="2.6" fill="#f4a935"/><circle cx="276.4" cy="98.8" r="2.6" fill="#f4a935"/><circle cx="270.6" cy="101.0" r="2.6" fill="#f4a935"/><circle cx="276.9" cy="98.1" r="2.6" fill="#f4a935"/><circle cx="267.6" cy="101.7" r="2.6" fill="#f4a935"/><circle cx="273.6" cy="98.6" r="2.6" fill="#f4a935"/><circle cx="266.4" cy="100.0" r="2.6" fill="#f4a935"/><circle cx="272.9" cy="98.2" r="2.6" fill="#f4a935"/><circle cx="268.4" cy="99.6" r="2.6" fill="#f4a935"/><circle cx="274.6" cy="97.8" r="2.6" fill="#f4a935"/><circle cx="267.9" cy="101.0" r="2.6" fill="#f4a935"/><circle cx="274.9" cy="97.9" r="2.6" fill="#f4a935"/><circle cx="269.5" cy="100.7" r="2.6" fill="#f4a935"/><circle cx="274.6" cy="97.2" r="2.6" fill="#f4a935"/><circle cx="269.4" cy="99.0" r="2.6" fill="#f4a935"/><circle cx="275.3" cy="97.1" r="2.6" fill="#f4a935"/><path d="M275.9,109.9 L271.5,99.5" stroke="#fde0a6" stroke-width="4.3" stroke-linecap="round" fill="none"/><path d="M273.8,105.0 L271.0,105.2" stroke="#fde0a6" stroke-width="4.3" stroke-linecap="round" fill="none"/><path d="M273.8,105.0 L276.1,103.1" stroke="#fde0a6" stroke-width="4.3" stroke-linecap="round" fill="none"/><path d="M271.9,100.4 L269.3,100.1" stroke="#fde0a6" stroke-width="4.3" stroke-linecap="round" fill="none"/><path d="M271.9,100.4 L273.5,98.7" stroke="#fde0a6" stroke-width="4.3" stroke-linecap="round" fill="none"/><path d="M271.7,99.9 L269.8,99.4" stroke="#fde0a6" stroke-width="4.3" stroke-linecap="round" fill="none"/><path d="M271.7,99.9 L271.2,98.8" stroke="#fde0a6" stroke-width="4.3" stroke-linecap="round" fill="none"/><path d="M271.7,99.9 L272.6,98.2" stroke="#fde0a6" stroke-width="4.3" stroke-linecap="round" fill="none"/><path d="M272.1,111.5 L279.7,108.3 L272.7,102.3 Z" fill="#fde0a6"/><path d="M275.9,109.9 L271.5,99.5" stroke="#dce6f4" stroke-width="1.3" stroke-linecap="round" fill="none"/><path d="M273.8,105.0 L271.0,105.2" stroke="#dce6f4" stroke-width="1.3" stroke-linecap="round" fill="none"/><path d="M273.8,105.0 L276.1,103.1" stroke="#dce6f4" stroke-width="1.3" stroke-linecap="round" fill="none"/><path d="M271.9,100.4 L269.3,100.1" stroke="#dce6f4" stroke-width="1.3" stroke-linecap="round" fill="none"/><path d="M271.9,100.4 L273.5,98.7" stroke="#dce6f4" stroke-width="1.3" stroke-linecap="round" fill="none"/><path d="M271.7,99.9 L269.8,99.4" stroke="#dce6f4" stroke-width="1.3" stroke-linecap="round" fill="none"/><path d="M271.7,99.9 L271.2,98.8" stroke="#dce6f4" stroke-width="1.3" stroke-linecap="round" fill="none"/><path d="M271.7,99.9 L272.6,98.2" stroke="#dce6f4" stroke-width="1.3" stroke-linecap="round" fill="none"/><path d="M273.5,110.9 L278.4,108.9 L273.3,103.7 Z" fill="#dce6f4"/>
<circle cx="284.0" cy="114.4" r="2.5" fill="#f4a935"/><circle cx="285.9" cy="113.5" r="1.2" fill="#f4a935"/><circle cx="284.9" cy="116.3" r="1.2" fill="#f4a935"/><circle cx="283.9" cy="116.5" r="1.2" fill="#f4a935"/><circle cx="281.9" cy="114.4" r="1.2" fill="#f4a935"/><circle cx="283.9" cy="112.3" r="1.2" fill="#f4a935"/><circle cx="284.6" cy="112.4" r="1.2" fill="#f4a935"/><circle cx="284.0" cy="114.4" r="1.4" fill="#fde0a6"/>
<circle cx="309.0" cy="108.0" r="2.5" fill="#f4a935"/><circle cx="311.2" cy="107.9" r="1.2" fill="#f4a935"/><circle cx="310.2" cy="110.1" r="1.2" fill="#f4a935"/><circle cx="308.4" cy="110.1" r="1.2" fill="#f4a935"/><circle cx="306.9" cy="107.1" r="1.2" fill="#f4a935"/><circle cx="307.0" cy="106.8" r="1.2" fill="#f4a935"/><circle cx="310.6" cy="106.7" r="1.2" fill="#f4a935"/><circle cx="309.0" cy="108.0" r="1.4" fill="#fde0a6"/>
<circle cx="315.1" cy="132.2" r="2.9" fill="#f4a935"/><circle cx="317.3" cy="131.3" r="1.4" fill="#f4a935"/><circle cx="316.5" cy="134.2" r="1.4" fill="#f4a935"/><circle cx="315.5" cy="134.6" r="1.4" fill="#f4a935"/><circle cx="312.8" cy="131.5" r="1.4" fill="#f4a935"/><circle cx="314.2" cy="130.0" r="1.4" fill="#f4a935"/><circle cx="316.9" cy="130.6" r="1.4" fill="#f4a935"/><circle cx="315.1" cy="132.2" r="1.6" fill="#fde0a6"/>
<g transform="translate(90.3,121.3) rotate(-8) scale(1.3,1)"><path d="M-4,-12 Q0,-12.6 -0.8,-10.8 Q-1.5,-9.6 -3.7,-9.2 Q-0.2,-8.8 -0.6,-7.2 Q-1,-5.9 -3.3,-5.6 Q0,-5.4 0,-3.5 L0,0" fill="none" stroke="#a81a28" stroke-width="1.5" stroke-linecap="round" stroke-linejoin="round" vector-effect="non-scaling-stroke"/></g>
<g transform="translate(106.9,102.7) rotate(-6) scale(1.3,1)"><path d="M-4,-12 Q0,-12.6 -0.8,-10.8 Q-1.5,-9.6 -3.7,-9.2 Q-0.2,-8.8 -0.6,-7.2 Q-1,-5.9 -3.3,-5.6 Q0,-5.4 0,-3.5 L0,0" fill="none" stroke="#a81a28" stroke-width="1.5" stroke-linecap="round" stroke-linejoin="round" vector-effect="non-scaling-stroke"/></g>
<g transform="translate(137.5,84.1) rotate(-4) scale(1.3,1)"><path d="M-4,-12 Q0,-12.6 -0.8,-10.8 Q-1.5,-9.6 -3.7,-9.2 Q-0.2,-8.8 -0.6,-7.2 Q-1,-5.9 -3.3,-5.6 Q0,-5.4 0,-3.5 L0,0" fill="none" stroke="#a81a28" stroke-width="1.5" stroke-linecap="round" stroke-linejoin="round" vector-effect="non-scaling-stroke"/></g>
<g transform="translate(170.4,71.2) rotate(-2) scale(1.3,1)"><path d="M-4,-12 Q0,-12.6 -0.8,-10.8 Q-1.5,-9.6 -3.7,-9.2 Q-0.2,-8.8 -0.6,-7.2 Q-1,-5.9 -3.3,-5.6 Q0,-5.4 0,-3.5 L0,0" fill="none" stroke="#a81a28" stroke-width="1.5" stroke-linecap="round" stroke-linejoin="round" vector-effect="non-scaling-stroke"/></g>
<g transform="translate(206.5,67.5) rotate(0) scale(1.3,1)"><path d="M-4,-12 Q0,-12.6 -0.8,-10.8 Q-1.5,-9.6 -3.7,-9.2 Q-0.2,-8.8 -0.6,-7.2 Q-1,-5.9 -3.3,-5.6 Q0,-5.4 0,-3.5 L0,0" fill="none" stroke="#a81a28" stroke-width="1.5" stroke-linecap="round" stroke-linejoin="round" vector-effect="non-scaling-stroke"/></g>
<g transform="translate(243.4,70.3) rotate(2) scale(1.3,1)"><path d="M-4,-12 Q0,-12.6 -0.8,-10.8 Q-1.5,-9.6 -3.7,-9.2 Q-0.2,-8.8 -0.6,-7.2 Q-1,-5.9 -3.3,-5.6 Q0,-5.4 0,-3.5 L0,0" fill="none" stroke="#a81a28" stroke-width="1.5" stroke-linecap="round" stroke-linejoin="round" vector-effect="non-scaling-stroke"/></g>
<g transform="translate(277.8,80.5) rotate(4) scale(1.3,1)"><path d="M-4,-12 Q0,-12.6 -0.8,-10.8 Q-1.5,-9.6 -3.7,-9.2 Q-0.2,-8.8 -0.6,-7.2 Q-1,-5.9 -3.3,-5.6 Q0,-5.4 0,-3.5 L0,0" fill="none" stroke="#a81a28" stroke-width="1.5" stroke-linecap="round" stroke-linejoin="round" vector-effect="non-scaling-stroke"/></g>
<g transform="translate(298.3,91.4) rotate(6) scale(1.3,1)"><path d="M-4,-12 Q0,-12.6 -0.8,-10.8 Q-1.5,-9.6 -3.7,-9.2 Q-0.2,-8.8 -0.6,-7.2 Q-1,-5.9 -3.3,-5.6 Q0,-5.4 0,-3.5 L0,0" fill="none" stroke="#a81a28" stroke-width="1.5" stroke-linecap="round" stroke-linejoin="round" vector-effect="non-scaling-stroke"/></g>
<g transform="translate(77.8,131.0) rotate(10) scale(0.42)"><path d="M-7.2,-6.8 C0,-6.7 5.5,-1.5 7.6,6.2 C1,6.8 -5.5,4.8 -6.8,2 C-7.5,-0.5 -7.6,-4 -7.2,-6.8 Z" fill="#f5f8ee" stroke="#98aa82" stroke-width="1.5"/><ellipse cx="-2.2" cy="-0.8" rx="2.6" ry="1.6" fill="#6f93b8"/></g>
<g transform="translate(68.0,162.4) rotate(20) scale(0.42)"><path d="M-7.2,-6.8 C0,-6.7 5.5,-1.5 7.6,6.2 C1,6.8 -5.5,4.8 -6.8,2 C-7.5,-0.5 -7.6,-4 -7.2,-6.8 Z" fill="#f5f8ee" stroke="#98aa82" stroke-width="1.5"/><ellipse cx="-2.2" cy="-0.8" rx="2.6" ry="1.6" fill="#6f93b8"/></g>
<g transform="translate(112.9,102.1) rotate(0) scale(0.42)"><path d="M-7.2,-6.8 C0,-6.7 5.5,-1.5 7.6,6.2 C1,6.8 -5.5,4.8 -6.8,2 C-7.5,-0.5 -7.6,-4 -7.2,-6.8 Z" fill="#f5f8ee" stroke="#98aa82" stroke-width="1.5"/><ellipse cx="-2.2" cy="-0.8" rx="2.6" ry="1.6" fill="#6f93b8"/></g>
<g transform="translate(113.7,87.0) rotate(0) scale(0.42)"><path d="M-7.2,-6.8 C0,-6.7 5.5,-1.5 7.6,6.2 C1,6.8 -5.5,4.8 -6.8,2 C-7.5,-0.5 -7.6,-4 -7.2,-6.8 Z" fill="#f5f8ee" stroke="#98aa82" stroke-width="1.5"/><ellipse cx="-2.2" cy="-0.8" rx="2.6" ry="1.6" fill="#6f93b8"/></g>
<g transform="translate(142.0,69.0) rotate(0) scale(0.42)"><path d="M-7.2,-6.8 C0,-6.7 5.5,-1.5 7.6,6.2 C1,6.8 -5.5,4.8 -6.8,2 C-7.5,-0.5 -7.6,-4 -7.2,-6.8 Z" fill="#f5f8ee" stroke="#98aa82" stroke-width="1.5"/><ellipse cx="-2.2" cy="-0.8" rx="2.6" ry="1.6" fill="#6f93b8"/></g>
<g transform="translate(159.0,67.0) rotate(-5) scale(0.42)"><path d="M-7.2,-6.8 C0,-6.7 5.5,-1.5 7.6,6.2 C1,6.8 -5.5,4.8 -6.8,2 C-7.5,-0.5 -7.6,-4 -7.2,-6.8 Z" fill="#f5f8ee" stroke="#98aa82" stroke-width="1.5"/><ellipse cx="-2.2" cy="-0.8" rx="2.6" ry="1.6" fill="#6f93b8"/></g>
<g transform="translate(187.3,59.0) rotate(-10) scale(0.42)"><path d="M-7.2,-6.8 C0,-6.7 5.5,-1.5 7.6,6.2 C1,6.8 -5.5,4.8 -6.8,2 C-7.5,-0.5 -7.6,-4 -7.2,-6.8 Z" fill="#f5f8ee" stroke="#98aa82" stroke-width="1.5"/><ellipse cx="-2.2" cy="-0.8" rx="2.6" ry="1.6" fill="#6f93b8"/></g>
<g transform="translate(191.3,72.0) rotate(-10) scale(0.42)"><path d="M-7.2,-6.8 C0,-6.7 5.5,-1.5 7.6,6.2 C1,6.8 -5.5,4.8 -6.8,2 C-7.5,-0.5 -7.6,-4 -7.2,-6.8 Z" fill="#f5f8ee" stroke="#98aa82" stroke-width="1.5"/><ellipse cx="-2.2" cy="-0.8" rx="2.6" ry="1.6" fill="#6f93b8"/></g>
<g transform="translate(229.5,69.2) rotate(-20) scale(0.42)"><path d="M-7.2,-6.8 C0,-6.7 5.5,-1.5 7.6,6.2 C1,6.8 -5.5,4.8 -6.8,2 C-7.5,-0.5 -7.6,-4 -7.2,-6.8 Z" fill="#f5f8ee" stroke="#98aa82" stroke-width="1.5"/><ellipse cx="-2.2" cy="-0.8" rx="2.6" ry="1.6" fill="#6f93b8"/></g>
<g transform="translate(258.3,67.5) rotate(-30) scale(0.42)"><path d="M-7.2,-6.8 C0,-6.7 5.5,-1.5 7.6,6.2 C1,6.8 -5.5,4.8 -6.8,2 C-7.5,-0.5 -7.6,-4 -7.2,-6.8 Z" fill="#f5f8ee" stroke="#98aa82" stroke-width="1.5"/><ellipse cx="-2.2" cy="-0.8" rx="2.6" ry="1.6" fill="#6f93b8"/></g>
<g transform="translate(262.2,67.8) rotate(-30) scale(0.42)"><path d="M-7.2,-6.8 C0,-6.7 5.5,-1.5 7.6,6.2 C1,6.8 -5.5,4.8 -6.8,2 C-7.5,-0.5 -7.6,-4 -7.2,-6.8 Z" fill="#f5f8ee" stroke="#98aa82" stroke-width="1.5"/><ellipse cx="-2.2" cy="-0.8" rx="2.6" ry="1.6" fill="#6f93b8"/></g>
<g transform="translate(336.4,127.2) rotate(-10) scale(0.42)"><path d="M-7.2,-6.8 C0,-6.7 5.5,-1.5 7.6,6.2 C1,6.8 -5.5,4.8 -6.8,2 C-7.5,-0.5 -7.6,-4 -7.2,-6.8 Z" fill="#f5f8ee" stroke="#98aa82" stroke-width="1.5"/><ellipse cx="-2.2" cy="-0.8" rx="2.6" ry="1.6" fill="#6f93b8"/></g>
<g transform="translate(344.3,152.8) rotate(10) scale(0.42)"><path d="M-7.2,-6.8 C0,-6.7 5.5,-1.5 7.6,6.2 C1,6.8 -5.5,4.8 -6.8,2 C-7.5,-0.5 -7.6,-4 -7.2,-6.8 Z" fill="#f5f8ee" stroke="#98aa82" stroke-width="1.5"/><ellipse cx="-2.2" cy="-0.8" rx="2.6" ry="1.6" fill="#6f93b8"/></g>
<rect x="283.0" y="79.2" width="9" height="9.7" fill="#f09884" stroke="#389bd3" stroke-width="3.6"/>
<circle cx="288.3" cy="84.1" r="1.1" fill="#2a1010"/>
<rect x="290.5" y="104.5" width="13" height="16" fill="#e2eaf5"/>
<path d="M290.8,104.8 L298.5,104.8 Q299.5,107 297.5,109 Q298,111.5 295.5,112.5 L290.8,113 Z" fill="#f4a935"/>
<path d="M294,106 Q296,105.5 296.5,107.5 Q295,109 293.5,108.5 Z" fill="#fcdca0"/>
<path d="M303.2,111 Q300,112 299.5,114.5 Q297,116.5 297.5,120.3 L303.2,120.3 Z" fill="#f4a935"/>
<path d="M301,105 L303.2,105 L303.2,108 Q301.5,108.5 300.5,107 Z" fill="#fcdca0"/>
<rect x="289" y="103" width="16.2" height="18.8" fill="none" stroke="#389bd3" stroke-width="3.8"/>
<rect x="332.9" y="181" width="16" height="18.8" fill="none" stroke="#389bd3" stroke-width="4.2"/>
<line x1="288.3" y1="84" x2="377" y2="84" stroke="#111" stroke-width="1.3"/>
<line x1="297.3" y1="112.3" x2="360.2" y2="112.3" stroke="#111" stroke-width="1.3"/>
<line x1="339" y1="192.8" x2="387.7" y2="192.8" stroke="#111" stroke-width="1.3"/>
<text x="2.8" y="14.5" font-family="Liberation Sans, sans-serif" font-weight="bold" stroke="#000" stroke-width="0.3" font-size="16.3" textLength="21.1" lengthAdjust="spacingAndGlyphs">(A)</text>
<text x="176.6" y="26.8" font-family="Liberation Sans, sans-serif" font-weight="bold" stroke="#000" stroke-width="0.3" font-size="12.4" textLength="73.5" lengthAdjust="spacingAndGlyphs">Maternal side</text>
<text x="188.7" y="184.9" font-family="Liberation Sans, sans-serif" font-weight="bold" stroke="#000" stroke-width="0.3" font-size="12.4" textLength="52.4" lengthAdjust="spacingAndGlyphs">Fetal side</text>
<text x="381.7" y="87.3" font-family="Liberation Sans, sans-serif" font-size="11.4" textLength="80.8" lengthAdjust="spacingAndGlyphs" fill="#1a1a1a" stroke="#1a1a1a" stroke-width="0.3">Basal Plate (BP)</text>
<text x="364.1" y="117" font-family="Liberation Sans, sans-serif" font-size="11.4" textLength="111.8" lengthAdjust="spacingAndGlyphs" fill="#1a1a1a" stroke="#1a1a1a" stroke-width="0.3">Placental Villous (PV)</text>
<text x="390.9" y="199.9" font-family="Liberation Sans, sans-serif" font-size="11.4" textLength="107.2" lengthAdjust="spacingAndGlyphs" fill="#1a1a1a" stroke="#1a1a1a" stroke-width="0.3">Fetal Membrane (FM)</text>
<rect x="84" y="205.6" width="252.6" height="26" fill="#fff" stroke="#555" stroke-width="1.4"/>
<defs><linearGradient id="lg" x1="0" y1="0" x2="1" y2="0"><stop offset="0" stop-color="#f2f7fa"/><stop offset="1" stop-color="#d3e3b2"/></linearGradient></defs>
<path d="M87.8,213.2 C95,213.3 100.5,218.5 102.6,226.2 C96,226.8 89.5,224.8 88.2,222 C87.5,219.5 87.4,216 87.8,213.2 Z" fill="url(#lg)" stroke="#b3c49c" stroke-width="0.7"/>
<ellipse cx="92.8" cy="219.2" rx="2.9" ry="1.3" transform="rotate(-15 92.8 219.2)" fill="#7594c4"/>
<path d="M182,209.5 Q183.5,207.3 186,207.8 Q187.6,208.5 187,211 L186.6,213.5 Q188.6,216 188.5,218.5 Q188.8,220.5 188.6,222 L188.7,228.6 L186,228.6 L185.9,222 Q183,221.5 182.8,219 Q182.6,217 184,215.5 Q181.6,214.5 182,212 Z" fill="#cf2030"/>
<text x="102.9" y="223.6" font-family="Liberation Sans, sans-serif" font-size="10" textLength="78.4" lengthAdjust="spacingAndGlyphs" fill="#1a1a1a" stroke="#1a1a1a" stroke-width="0.3">Immune cells in BP</text>
<text x="189.8" y="223.4" font-family="Liberation Sans, sans-serif" font-size="10" textLength="48.7" lengthAdjust="spacingAndGlyphs" fill="#1a1a1a" stroke="#1a1a1a" stroke-width="0.3">Spiral artery</text>
<path d="M248,209.7 Q250,222 258.8,228.1" fill="none" stroke="#111" stroke-width="1.2"/>
<path d="M254.2,208.9 Q255,219 261.8,223.5" fill="none" stroke="#111" stroke-width="1.2"/>
<text x="269.5" y="223.5" font-family="Liberation Sans, sans-serif" font-size="10" textLength="56.7" lengthAdjust="spacingAndGlyphs" fill="#1a1a1a" stroke="#1a1a1a" stroke-width="0.3">Umbilical cord</text>
<text x="2.8" y="284.9" font-family="Liberation Sans, sans-serif" font-weight="bold" stroke="#000" stroke-width="0.3" font-size="16.3" textLength="21.1" lengthAdjust="spacingAndGlyphs">(B)</text>
<text transform="translate(32.7,454.7) rotate(-90)" text-anchor="middle" font-family="Liberation Sans, sans-serif" font-weight="bold" stroke="#000" stroke-width="0.3" font-size="16.5" textLength="270.4" lengthAdjust="spacingAndGlyphs">Copy Number/uL (V4 of 16S rRNA)</text>
<line x1="96.0" y1="330.2" x2="96.0" y2="411.2" stroke="#111" stroke-width="1.8"/>
<line x1="96.0" y1="426.3" x2="96.0" y2="481.7" stroke="#111" stroke-width="1.8"/>
<line x1="96.0" y1="496.8" x2="96.0" y2="579.5" stroke="#111" stroke-width="1.8"/>
<line x1="89.2" y1="330.2" x2="96.0" y2="330.2" stroke="#111" stroke-width="1.8"/>
<text x="87.3" y="336.3" text-anchor="end" font-family="Liberation Sans, sans-serif" font-weight="bold" stroke="#000" stroke-width="0.3" font-size="16">50000</text>
<line x1="89.2" y1="350.5" x2="96.0" y2="350.5" stroke="#111" stroke-width="1.8"/>
<text x="87.3" y="356.6" text-anchor="end" font-family="Liberation Sans, sans-serif" font-weight="bold" stroke="#000" stroke-width="0.3" font-size="16">40000</text>
<line x1="89.2" y1="370.5" x2="96.0" y2="370.5" stroke="#111" stroke-width="1.8"/>
<text x="87.3" y="376.6" text-anchor="end" font-family="Liberation Sans, sans-serif" font-weight="bold" stroke="#000" stroke-width="0.3" font-size="16">30000</text>
<line x1="89.2" y1="390.7" x2="96.0" y2="390.7" stroke="#111" stroke-width="1.8"/>
<text x="87.3" y="396.8" text-anchor="end" font-family="Liberation Sans, sans-serif" font-weight="bold" stroke="#000" stroke-width="0.3" font-size="16">20000</text>
<line x1="89.2" y1="411.2" x2="96.0" y2="411.2" stroke="#111" stroke-width="1.8"/>
<text x="87.3" y="417.3" text-anchor="end" font-family="Liberation Sans, sans-serif" font-weight="bold" stroke="#000" stroke-width="0.3" font-size="16">10000</text>
<line x1="89.2" y1="435" x2="96.0" y2="435" stroke="#111" stroke-width="1.8"/>
<text x="87.3" y="441.1" text-anchor="end" font-family="Liberation Sans, sans-serif" font-weight="bold" stroke="#000" stroke-width="0.3" font-size="16">6000</text>
<line x1="89.2" y1="452.8" x2="96.0" y2="452.8" stroke="#111" stroke-width="1.8"/>
<text x="87.3" y="458.9" text-anchor="end" font-family="Liberation Sans, sans-serif" font-weight="bold" stroke="#000" stroke-width="0.3" font-size="16">4000</text>
<line x1="89.2" y1="470.6" x2="96.0" y2="470.6" stroke="#111" stroke-width="1.8"/>
<text x="87.3" y="476.7" text-anchor="end" font-family="Liberation Sans, sans-serif" font-weight="bold" stroke="#000" stroke-width="0.3" font-size="16">2000</text>
<line x1="89.2" y1="496.8" x2="96.0" y2="496.8" stroke="#111" stroke-width="1.8"/>
<text x="87.3" y="502.9" text-anchor="end" font-family="Liberation Sans, sans-serif" font-weight="bold" stroke="#000" stroke-width="0.3" font-size="16">400</text>
<line x1="89.2" y1="517.4" x2="96.0" y2="517.4" stroke="#111" stroke-width="1.8"/>
<text x="87.3" y="523.5" text-anchor="end" font-family="Liberation Sans, sans-serif" font-weight="bold" stroke="#000" stroke-width="0.3" font-size="16">300</text>
<line x1="89.2" y1="538" x2="96.0" y2="538" stroke="#111" stroke-width="1.8"/>
<text x="87.3" y="544.1" text-anchor="end" font-family="Liberation Sans, sans-serif" font-weight="bold" stroke="#000" stroke-width="0.3" font-size="16">200</text>
<line x1="89.2" y1="558.7" x2="96.0" y2="558.7" stroke="#111" stroke-width="1.8"/>
<text x="87.3" y="564.8" text-anchor="end" font-family="Liberation Sans, sans-serif" font-weight="bold" stroke="#000" stroke-width="0.3" font-size="16">100</text>
<line x1="89.2" y1="579.3" x2="96.0" y2="579.3" stroke="#111" stroke-width="1.8"/>
<text x="87.3" y="585.4" text-anchor="end" font-family="Liberation Sans, sans-serif" font-weight="bold" stroke="#000" stroke-width="0.3" font-size="16">0</text>
<line x1="89.4" y1="411.2" x2="100.5" y2="411.2" stroke="#111" stroke-width="1.8"/>
<line x1="91" y1="426.3" x2="100.5" y2="426.3" stroke="#111" stroke-width="1.8"/>
<line x1="91.8" y1="481.7" x2="99.7" y2="481.7" stroke="#111" stroke-width="1.8"/>
<line x1="89.4" y1="496.8" x2="100.5" y2="496.8" stroke="#111" stroke-width="1.8"/>
<line x1="89.2" y1="579.3" x2="422.4" y2="579.3" stroke="#111" stroke-width="2"/>
<line x1="128" y1="579.3" x2="128" y2="585.8" stroke="#111" stroke-width="1.8"/>
<text x="128" y="600.5" text-anchor="middle" font-family="Liberation Sans, sans-serif" font-weight="bold" stroke="#000" stroke-width="0.3" font-size="16">BP</text>
<line x1="193.2" y1="579.3" x2="193.2" y2="585.8" stroke="#111" stroke-width="1.8"/>
<text x="193.2" y="600.5" text-anchor="middle" font-family="Liberation Sans, sans-serif" font-weight="bold" stroke="#000" stroke-width="0.3" font-size="16">PV</text>
<line x1="258.2" y1="579.3" x2="258.2" y2="585.8" stroke="#111" stroke-width="1.8"/>
<text x="258.2" y="600.5" text-anchor="middle" font-family="Liberation Sans, sans-serif" font-weight="bold" stroke="#000" stroke-width="0.3" font-size="16">FM</text>
<line x1="323.3" y1="579.3" x2="323.3" y2="585.8" stroke="#111" stroke-width="1.8"/>
<text x="323.3" y="600.5" text-anchor="middle" font-family="Liberation Sans, sans-serif" font-weight="bold" stroke="#000" stroke-width="0.3" font-size="16">Blank</text>
<line x1="388.2" y1="579.3" x2="388.2" y2="585.8" stroke="#111" stroke-width="1.8"/>
<text x="388.2" y="600.5" text-anchor="middle" font-family="Liberation Sans, sans-serif" font-weight="bold" stroke="#000" stroke-width="0.3" font-size="16">Water</text>
<text x="208.8" y="624.8" font-family="Liberation Sans, sans-serif" font-weight="bold" stroke="#000" stroke-width="0.3" font-size="16" textLength="99.5" lengthAdjust="spacingAndGlyphs">Sample Type</text>
<line x1="95.3" y1="572.55" x2="422.6" y2="572.55" stroke="#111" stroke-width="1.9" stroke-dasharray="7.8 2.23"/>
<path d="M125.7,326.7 L125.7,322.3 L257.4,322.3 L257.4,326.7" fill="none" stroke="#111" stroke-width="1.35"/>
<text x="196.4" y="325.7" text-anchor="middle" font-family="Liberation Sans, sans-serif" font-weight="bold" stroke="#000" stroke-width="0.3" font-size="16">*</text>
<path d="M312.3,326.1 L312.3,321.9 L386.4,321.9 L386.4,326.1" fill="none" stroke="#111" stroke-width="1.5"/>
<text x="339.7" y="319.1" font-family="Liberation Sans, sans-serif" font-weight="bold" stroke="#000" stroke-width="0.3" font-size="15.8" textLength="15.2" lengthAdjust="spacingAndGlyphs">ns</text>
<circle cx="119.2" cy="471" r="2.9" fill="#e34446"/>
<circle cx="116.7" cy="476.6" r="2.9" fill="#e34446"/>
<circle cx="128" cy="471.7" r="2.9" fill="#e34446"/>
<circle cx="129.1" cy="475" r="2.9" fill="#e34446"/>
<circle cx="126.9" cy="476.4" r="2.9" fill="#e34446"/>
<circle cx="137.1" cy="467.4" r="2.9" fill="#e34446"/>
<circle cx="139.2" cy="475.7" r="2.9" fill="#e34446"/>
<circle cx="123.6" cy="481.5" r="2.9" fill="#e34446"/>
<circle cx="132.4" cy="481.5" r="2.9" fill="#e34446"/>
<circle cx="130.5" cy="477.5" r="2.9" fill="#e34446"/>
<circle cx="125.4" cy="479" r="2.9" fill="#e34446"/>
<circle cx="128.1" cy="510.2" r="2.9" fill="#e34446"/>
<circle cx="132.7" cy="520.3" r="2.9" fill="#e34446"/>
<circle cx="123.8" cy="527.7" r="2.9" fill="#e34446"/>
<circle cx="123.8" cy="558.6" r="2.9" fill="#e34446"/>
<circle cx="132.7" cy="558.6" r="2.9" fill="#e34446"/>
<circle cx="119" cy="563.8" r="2.9" fill="#e34446"/>
<circle cx="137" cy="565.6" r="2.9" fill="#e34446"/>
<circle cx="128.1" cy="569.2" r="2.9" fill="#e34446"/>
<circle cx="184" cy="459" r="2.9" fill="#6592cc"/>
<circle cx="193" cy="461.5" r="2.9" fill="#6592cc"/>
<circle cx="202.1" cy="461.5" r="2.9" fill="#6592cc"/>
<circle cx="184" cy="474.7" r="2.9" fill="#6592cc"/>
<circle cx="193" cy="478.1" r="2.9" fill="#6592cc"/>
<circle cx="202.1" cy="473" r="2.9" fill="#6592cc"/>
<circle cx="193.1" cy="520.2" r="2.9" fill="#6592cc"/>
<circle cx="193.1" cy="561" r="2.9" fill="#6592cc"/>
<circle cx="183.9" cy="568.8" r="2.9" fill="#6592cc"/>
<circle cx="188.6" cy="567.1" r="2.9" fill="#6592cc"/>
<circle cx="193.3" cy="571.5" r="2.9" fill="#6592cc"/>
<circle cx="197.7" cy="568.2" r="2.9" fill="#6592cc"/>
<circle cx="202.2" cy="570.4" r="2.9" fill="#6592cc"/>
<circle cx="257.9" cy="348" r="2.9" fill="#3bb34a"/>
<circle cx="257.9" cy="409.4" r="2.9" fill="#3bb34a"/>
<circle cx="257.9" cy="435.7" r="2.9" fill="#3bb34a"/>
<circle cx="258" cy="526.8" r="2.9" fill="#3bb34a"/>
<circle cx="253.5" cy="551.8" r="2.9" fill="#3bb34a"/>
<circle cx="262.6" cy="550.6" r="2.9" fill="#3bb34a"/>
<circle cx="267.3" cy="553.3" r="2.9" fill="#3bb34a"/>
<circle cx="248.8" cy="555.9" r="2.9" fill="#3bb34a"/>
<circle cx="257.3" cy="557.5" r="2.9" fill="#3bb34a"/>
<circle cx="255.9" cy="561.8" r="2.9" fill="#3bb34a"/>
<circle cx="249.3" cy="567" r="2.9" fill="#3bb34a"/>
<circle cx="254" cy="566.6" r="2.9" fill="#3bb34a"/>
<circle cx="260.2" cy="566.1" r="2.9" fill="#3bb34a"/>
<circle cx="264.5" cy="567.5" r="2.9" fill="#3bb34a"/>
<circle cx="267.8" cy="569" r="2.9" fill="#3bb34a"/>
<circle cx="257.8" cy="570.4" r="2.9" fill="#3bb34a"/>
<circle cx="320.6" cy="571.6" r="2.9" fill="#111"/>
<circle cx="316.3" cy="573.9" r="2.9" fill="#111"/>
<circle cx="313.9" cy="576.6" r="2.9" fill="#111"/>
<circle cx="318" cy="579.2" r="2.9" fill="#111"/>
<circle cx="321.5" cy="576.3" r="2.9" fill="#111"/>
<circle cx="324.4" cy="577.4" r="2.9" fill="#111"/>
<circle cx="327.4" cy="578.9" r="2.9" fill="#111"/>
<circle cx="329.1" cy="574.5" r="2.9" fill="#111"/>
<circle cx="332" cy="576.3" r="2.9" fill="#111"/>
<circle cx="319.2" cy="574.5" r="2.9" fill="#111"/>
<circle cx="316" cy="578.6" r="2.9" fill="#111"/>
<circle cx="322.5" cy="578.8" r="2.9" fill="#111"/>
<circle cx="376.5" cy="572.4" r="2.6" fill="#ababab"/>
<circle cx="378" cy="575.8" r="2.6" fill="#ababab"/>
<circle cx="382.5" cy="576.2" r="2.6" fill="#ababab"/>
<circle cx="387" cy="576" r="2.6" fill="#ababab"/>
<circle cx="391.5" cy="576.3" r="2.6" fill="#ababab"/>
<circle cx="396" cy="576" r="2.6" fill="#ababab"/>
<circle cx="399.5" cy="576.2" r="2.6" fill="#ababab"/>
<circle cx="379" cy="578.6" r="2.6" fill="#ababab"/>
<circle cx="383.5" cy="578.8" r="2.6" fill="#ababab"/>
<circle cx="388" cy="578.9" r="2.6" fill="#ababab"/>
<circle cx="392.5" cy="578.7" r="2.6" fill="#ababab"/>
<circle cx="397" cy="578.7" r="2.6" fill="#ababab"/>
<line x1="111.2" y1="481" x2="145.1" y2="481" stroke="#111" stroke-width="1.9"/>
<line x1="176.1" y1="520.2" x2="210.5" y2="520.2" stroke="#111" stroke-width="1.9"/>
<line x1="241.2" y1="556.9" x2="274.9" y2="556.9" stroke="#111" stroke-width="1.9"/>
<line x1="306.3" y1="576" x2="339.6" y2="576" stroke="#111" stroke-width="1.9"/>
<line x1="371.2" y1="577.1" x2="405.1" y2="577.1" stroke="#111" stroke-width="1.9"/>
<text x="445" y="292.7" font-family="Liberation Sans, sans-serif" font-weight="bold" stroke="#000" stroke-width="0.3" font-size="16.3" textLength="21.7" lengthAdjust="spacingAndGlyphs">(C)</text>
<text transform="translate(462.6,437) rotate(-90)" text-anchor="middle" font-family="Liberation Sans, sans-serif" font-weight="bold" stroke="#000" stroke-width="0.3" font-size="16.5" textLength="171.6" lengthAdjust="spacingAndGlyphs">Shannon Diversity (<tspan font-style="italic">H</tspan>)</text>
<line x1="489.5" y1="293.9" x2="489.5" y2="580.5" stroke="#111" stroke-width="1.8"/>
<line x1="483" y1="580.00" x2="489.5" y2="580.00" stroke="#111" stroke-width="1.8"/>
<text x="481.3" y="585.9" text-anchor="end" font-family="Liberation Sans, sans-serif" font-weight="bold" stroke="#000" stroke-width="0.3" font-size="16">0</text>
<line x1="483" y1="508.65" x2="489.5" y2="508.65" stroke="#111" stroke-width="1.8"/>
<text x="481.3" y="514.5" text-anchor="end" font-family="Liberation Sans, sans-serif" font-weight="bold" stroke="#000" stroke-width="0.3" font-size="16">1</text>
<line x1="483" y1="437.30" x2="489.5" y2="437.30" stroke="#111" stroke-width="1.8"/>
<text x="481.3" y="443.2" text-anchor="end" font-family="Liberation Sans, sans-serif" font-weight="bold" stroke="#000" stroke-width="0.3" font-size="16">2</text>
<line x1="483" y1="365.95" x2="489.5" y2="365.95" stroke="#111" stroke-width="1.8"/>
<text x="481.3" y="371.9" text-anchor="end" font-family="Liberation Sans, sans-serif" font-weight="bold" stroke="#000" stroke-width="0.3" font-size="16">3</text>
<line x1="483" y1="294.60" x2="489.5" y2="294.60" stroke="#111" stroke-width="1.8"/>
<text x="481.3" y="300.5" text-anchor="end" font-family="Liberation Sans, sans-serif" font-weight="bold" stroke="#000" stroke-width="0.3" font-size="16">4</text>
<line x1="488.6" y1="580" x2="682" y2="580" stroke="#111" stroke-width="1.9"/>
<line x1="521.4" y1="580" x2="521.4" y2="586.5" stroke="#111" stroke-width="1.8"/>
<text x="521.4" y="601.8" text-anchor="middle" font-family="Liberation Sans, sans-serif" font-weight="bold" stroke="#000" stroke-width="0.3" font-size="16">BP</text>
<line x1="585" y1="580" x2="585" y2="586.5" stroke="#111" stroke-width="1.8"/>
<text x="585" y="601.8" text-anchor="middle" font-family="Liberation Sans, sans-serif" font-weight="bold" stroke="#000" stroke-width="0.3" font-size="16">PV</text>
<line x1="649.3" y1="580" x2="649.3" y2="586.5" stroke="#111" stroke-width="1.8"/>
<text x="649.3" y="601.8" text-anchor="middle" font-family="Liberation Sans, sans-serif" font-weight="bold" stroke="#000" stroke-width="0.3" font-size="16">FM</text>
<text x="552.5" y="624.7" font-family="Liberation Sans, sans-serif" font-weight="bold" stroke="#000" stroke-width="0.3" font-size="16" textLength="67" lengthAdjust="spacingAndGlyphs">Location</text>
<path d="M522.6,296.7 L522.6,292.7 L653.3,292.7 L653.3,296.7" fill="none" stroke="#111" stroke-width="1.3"/>
<text x="589.8" y="295.6" text-anchor="middle" font-family="Liberation Sans, sans-serif" font-weight="bold" stroke="#000" stroke-width="0.3" font-size="16">*</text>
<circle cx="521.5" cy="317.20000000000005" r="3.2" fill="#e34446"/>
<circle cx="521.5" cy="343.1" r="3.2" fill="#e34446"/>
<circle cx="521.5" cy="364.40000000000003" r="3.2" fill="#e34446"/>
<circle cx="521.5" cy="377.70000000000005" r="3.2" fill="#e34446"/>
<circle cx="525.9" cy="382.1" r="3.2" fill="#e34446"/>
<circle cx="516.8" cy="388.1" r="3.2" fill="#e34446"/>
<circle cx="516.8" cy="393.20000000000005" r="3.2" fill="#e34446"/>
<circle cx="503.3" cy="402.90000000000003" r="3.2" fill="#e34446"/>
<circle cx="525.9" cy="401.40000000000003" r="3.2" fill="#e34446"/>
<circle cx="539.6" cy="402.90000000000003" r="3.2" fill="#e34446"/>
<circle cx="512.2" cy="409.6" r="3.2" fill="#e34446"/>
<circle cx="521.5" cy="412.0" r="3.2" fill="#e34446"/>
<circle cx="530.3" cy="409.6" r="3.2" fill="#e34446"/>
<circle cx="521.5" cy="429.1" r="3.2" fill="#e34446"/>
<circle cx="516.9" cy="464.90000000000003" r="3.2" fill="#e34446"/>
<circle cx="525.7" cy="462.5" r="3.2" fill="#e34446"/>
<circle cx="521.2" cy="481.8" r="3.2" fill="#e34446"/>
<circle cx="516.9" cy="516.8000000000001" r="3.2" fill="#e34446"/>
<circle cx="525.7" cy="516.3000000000001" r="3.2" fill="#e34446"/>
<circle cx="521.2" cy="571.1" r="3.2" fill="#e34446"/>
<circle cx="521.2" cy="580.1" r="3.2" fill="#e34446"/>
<circle cx="585.3" cy="334.8" r="3.2" fill="#6592cc"/>
<circle cx="580.9" cy="370.90000000000003" r="3.2" fill="#6592cc"/>
<circle cx="590" cy="372.20000000000005" r="3.2" fill="#6592cc"/>
<circle cx="585.3" cy="383.3" r="3.2" fill="#6592cc"/>
<circle cx="580.9" cy="392.40000000000003" r="3.2" fill="#6592cc"/>
<circle cx="590" cy="394.6" r="3.2" fill="#6592cc"/>
<circle cx="580.9" cy="408.90000000000003" r="3.2" fill="#6592cc"/>
<circle cx="590" cy="406.0" r="3.2" fill="#6592cc"/>
<circle cx="585.3" cy="429.8" r="3.2" fill="#6592cc"/>
<circle cx="585.2" cy="466.8" r="3.2" fill="#6592cc"/>
<circle cx="585.2" cy="535.8000000000001" r="3.2" fill="#6592cc"/>
<circle cx="581" cy="578.2" r="3.2" fill="#6592cc"/>
<circle cx="589.8" cy="576.3000000000001" r="3.2" fill="#6592cc"/>
<circle cx="653.8" cy="378.1" r="3.2" fill="#3bb34a"/>
<circle cx="644.7" cy="384.0" r="3.2" fill="#3bb34a"/>
<circle cx="644.7" cy="417.6" r="3.2" fill="#3bb34a"/>
<circle cx="653.8" cy="426.20000000000005" r="3.2" fill="#3bb34a"/>
<circle cx="649.1" cy="443.70000000000005" r="3.2" fill="#3bb34a"/>
<circle cx="649.1" cy="463.3" r="3.2" fill="#3bb34a"/>
<circle cx="653.8" cy="484.3" r="3.2" fill="#3bb34a"/>
<circle cx="644.7" cy="492.5" r="3.2" fill="#3bb34a"/>
<circle cx="644.7" cy="496.3" r="3.2" fill="#3bb34a"/>
<circle cx="653.8" cy="504.40000000000003" r="3.2" fill="#3bb34a"/>
<circle cx="653.8" cy="522.3000000000001" r="3.2" fill="#3bb34a"/>
<circle cx="644.7" cy="530.5" r="3.2" fill="#3bb34a"/>
<circle cx="649.1" cy="539.6" r="3.2" fill="#3bb34a"/>
<circle cx="640" cy="549.9" r="3.2" fill="#3bb34a"/>
<circle cx="649.1" cy="556.5" r="3.2" fill="#3bb34a"/>
<circle cx="658.4" cy="556.5" r="3.2" fill="#3bb34a"/>
<line x1="498.9" y1="409.6" x2="543.8" y2="409.6" stroke="#111" stroke-width="1.9"/>
<line x1="563.4" y1="406.1" x2="607.5" y2="406.1" stroke="#111" stroke-width="1.9"/>
<line x1="627.2" y1="494.5" x2="671.7" y2="494.5" stroke="#111" stroke-width="1.9"/>
</svg>
</body></html>
